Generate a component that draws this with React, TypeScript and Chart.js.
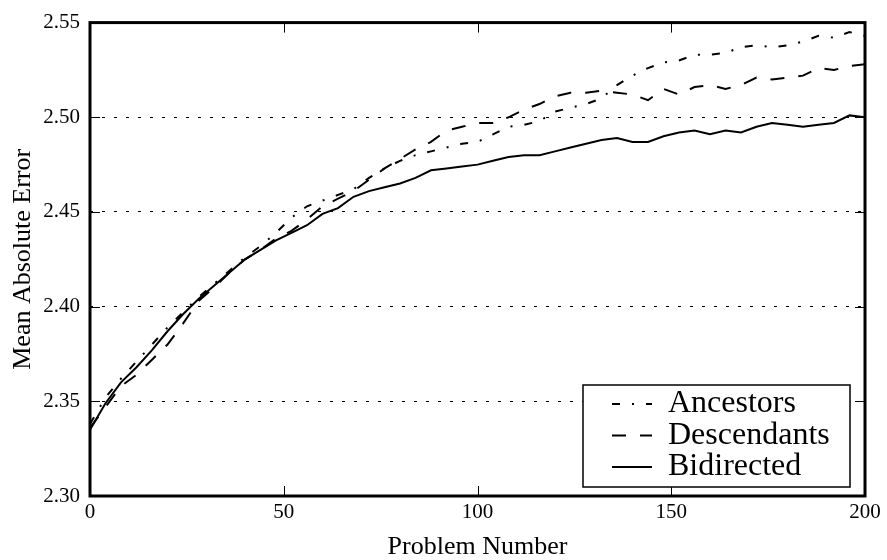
import React, { useEffect, useRef } from 'react';
import { Chart, registerables } from 'chart.js';

Chart.register(...registerables);

const FONT = '"Liberation Serif", "Times New Roman", serif';

const problemNumbers = [
  0, 4, 8, 12, 16, 20, 24, 28, 32, 36, 40, 44, 48, 52, 56, 60, 64, 68, 72, 76,
  80, 84, 88, 92, 96, 100, 104, 108, 112, 116, 120, 124, 128, 132, 136, 140,
  144, 148, 152, 156, 160, 164, 168, 172, 176, 180, 184, 188, 192, 196, 200,
];

const ancestors = [
  2.338, 2.352, 2.362, 2.371, 2.380, 2.389, 2.397, 2.405, 2.412, 2.419, 2.426,
  2.432, 2.439, 2.447, 2.453, 2.456, 2.459, 2.462, 2.468, 2.473, 2.477, 2.480,
  2.482, 2.484, 2.486, 2.487, 2.491, 2.495, 2.496, 2.498, 2.503, 2.505, 2.507,
  2.510, 2.517, 2.522, 2.526, 2.529, 2.530, 2.533, 2.533, 2.534, 2.537, 2.538,
  2.537, 2.538, 2.540, 2.543, 2.542, 2.545, 2.543,
];

const descendants = [
  2.336, 2.347, 2.358, 2.364, 2.372, 2.380, 2.391, 2.403, 2.410, 2.418, 2.425,
  2.430, 2.436, 2.440, 2.446, 2.453, 2.457, 2.461, 2.467, 2.473, 2.478, 2.483,
  2.487, 2.493, 2.495, 2.497, 2.497, 2.500, 2.504, 2.507, 2.511, 2.513, 2.513,
  2.514, 2.513, 2.512, 2.509, 2.515, 2.512, 2.516, 2.517, 2.515, 2.517, 2.521,
  2.520, 2.521, 2.522, 2.526, 2.525, 2.527, 2.528,
];

const bidirected = [
  2.335, 2.349, 2.360, 2.368, 2.377, 2.387, 2.396, 2.404, 2.411, 2.418, 2.425,
  2.430, 2.435, 2.439, 2.443, 2.449, 2.452, 2.458, 2.461, 2.463, 2.465, 2.468,
  2.472, 2.473, 2.474, 2.475, 2.477, 2.479, 2.480, 2.480, 2.482, 2.484, 2.486,
  2.488, 2.489, 2.487, 2.487, 2.490, 2.492, 2.493, 2.491, 2.493, 2.492, 2.495,
  2.497, 2.496, 2.495, 2.496, 2.497, 2.501, 2.500,
];

const xTickMarks = [50, 100, 150];
const yTickMarks = [2.35, 2.4, 2.45, 2.5];

const seriesLabels = ['Ancestors', 'Descendants', 'Bidirected'];

export default function App() {
  const ref = useRef<HTMLCanvasElement>(null);

  useEffect(() => {
    if (!ref.current) return;
    const toPts = (vals: number[]) => problemNumbers.map((x, i) => ({ x, y: vals[i] }));

    const framePlugin = {
      id: 'frameAndLegend',
      afterDraw(chart: any) {
        const { ctx, chartArea: a, scales } = chart;
        const xs = scales.x;
        const ys = scales.y;
        ctx.save();
        ctx.strokeStyle = '#000';
        ctx.setLineDash([]);
        // inward tick marks
        const L = 10;
        ctx.lineWidth = 1;
        ctx.beginPath();
        for (const v of xTickMarks) {
          const px = Math.round(xs.getPixelForValue(v)) + 0.5;
          ctx.moveTo(px, a.top);
          ctx.lineTo(px, a.top + L);
          ctx.moveTo(px, a.bottom);
          ctx.lineTo(px, a.bottom - L);
        }
        for (const v of yTickMarks) {
          const py = Math.round(ys.getPixelForValue(v)) + 0.5;
          ctx.moveTo(a.left, py);
          ctx.lineTo(a.left + L, py);
          ctx.moveTo(a.right, py);
          ctx.lineTo(a.right - L, py);
        }
        ctx.stroke();
        // frame
        ctx.lineWidth = 3;
        ctx.strokeRect(a.left, a.top, a.right - a.left, a.bottom - a.top);

        // legend box
        const bw = 267;
        const bh = 102;
        const bx = a.right - 15 - bw;
        const by = a.bottom - 9 - bh;
        ctx.fillStyle = '#fff';
        ctx.fillRect(bx, by, bw, bh);
        ctx.lineWidth = 1.5;
        ctx.strokeRect(bx, by, bw, bh);
        ctx.font = `32px ${FONT}`;
        ctx.textBaseline = 'middle';
        ctx.textAlign = 'left';
        ctx.fillStyle = '#000';
        chart.data.datasets.forEach((ds: any, i: number) => {
          const cy = by + 19 + i * 31.5;
          ctx.lineWidth = 2;
          ctx.setLineDash(ds.borderDash || []);
          ctx.beginPath();
          ctx.moveTo(bx + 29, cy);
          ctx.lineTo(bx + 69, cy);
          ctx.stroke();
          ctx.setLineDash([]);
          ctx.fillText(ds.label, bx + 85, cy);
        });
        ctx.restore();
      },
    };

    const chart = new Chart(ref.current, {
      type: 'line',
      data: {
        datasets: [
          {
            label: seriesLabels[0],
            data: toPts(ancestors),
            borderColor: '#000',
            borderWidth: 2,
            borderDash: [8, 12, 2, 12],
            pointRadius: 0,
            fill: false,
          },
          {
            label: seriesLabels[1],
            data: toPts(descendants),
            borderColor: '#000',
            borderWidth: 2,
            borderDash: [14, 14],
            pointRadius: 0,
            fill: false,
          },
          {
            label: seriesLabels[2],
            data: toPts(bidirected),
            borderColor: '#000',
            borderWidth: 2,
            pointRadius: 0,
            fill: false,
          },
        ],
      },
      options: {
        animation: false,
        responsive: false,
        devicePixelRatio: 1,
        layout: { padding: { left: 0, right: 22, top: 16, bottom: 0 } },
        plugins: {
          legend: { display: false },
          tooltip: { enabled: false },
        },
        elements: { line: { tension: 0 } },
        scales: {
          x: {
            type: 'linear',
            min: 0,
            max: 200,
            ticks: {
              stepSize: 50,
              color: '#000',
              font: { family: FONT, size: 21 },
              padding: 4,
              maxRotation: 0,
            },
            grid: { display: false, drawTicks: false },
            border: { display: false },
            title: {
              display: true,
              text: 'Problem Number',
              color: '#000',
              font: { family: FONT, size: 26, lineHeight: 1 },
              padding: { top: 0, bottom: 0 },
            },
            afterFit: (s: any) => {
              s.height = 64;
            },
          },
          y: {
            type: 'linear',
            min: 2.3,
            max: 2.55,
            ticks: {
              stepSize: 0.05,
              color: '#000',
              font: { family: FONT, size: 21 },
              padding: 10,
              callback: (v: any) => Number(v).toFixed(2),
            },
            grid: { color: '#000', lineWidth: 1, drawTicks: false },
            border: { display: false, dash: [3, 9] },
            title: {
              display: true,
              text: 'Mean Absolute Error',
              color: '#000',
              font: { family: FONT, size: 26, lineHeight: 1 },
              padding: { top: 10, bottom: 0 },
            },
            afterFit: (s: any) => {
              s.width = 90;
            },
          },
        },
      } as any,
      plugins: [framePlugin],
    });
    return () => chart.destroy();
  }, []);

  return (
    <div style={{ position: 'fixed', left: 0, top: 0, width: 887, height: 560, background: '#fff' }}>
      <canvas ref={ref} width={887} height={560} />
    </div>
  );
}
